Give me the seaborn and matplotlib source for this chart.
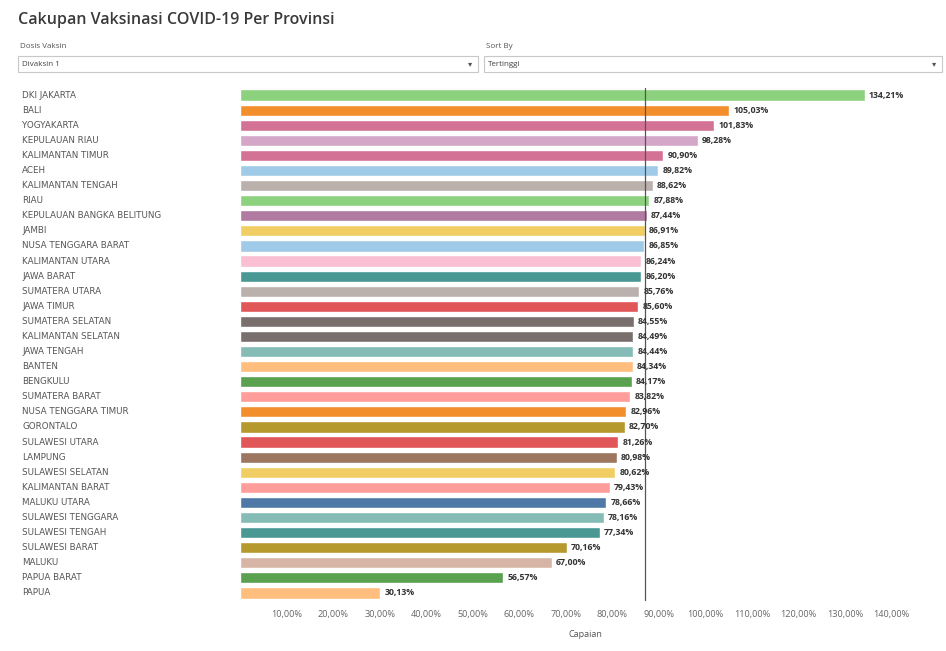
import matplotlib
matplotlib.use('Agg')
import matplotlib.pyplot as plt
import matplotlib.transforms as mtransforms
from matplotlib.patches import Rectangle
import seaborn as sns
import pandas as pd

provinsi = ['DKI JAKARTA', 'BALI', 'YOGYAKARTA', 'KEPULAUAN RIAU', 'KALIMANTAN TIMUR',
            'ACEH', 'KALIMANTAN TENGAH', 'RIAU', 'KEPULAUAN BANGKA BELITUNG', 'JAMBI',
            'NUSA TENGGARA BARAT', 'KALIMANTAN UTARA', 'JAWA BARAT', 'SUMATERA UTARA',
            'JAWA TIMUR', 'SUMATERA SELATAN', 'KALIMANTAN SELATAN', 'JAWA TENGAH',
            'BANTEN', 'BENGKULU', 'SUMATERA BARAT', 'NUSA TENGGARA TIMUR', 'GORONTALO',
            'SULAWESI UTARA', 'LAMPUNG', 'SULAWESI SELATAN', 'KALIMANTAN BARAT',
            'MALUKU UTARA', 'SULAWESI TENGGARA', 'SULAWESI TENGAH', 'SULAWESI BARAT',
            'MALUKU', 'PAPUA BARAT', 'PAPUA']
capaian = [134.21, 105.03, 101.83, 98.28, 90.90, 89.82, 88.62, 87.88, 87.44, 86.91,
           86.85, 86.24, 86.20, 85.76, 85.60, 84.55, 84.49, 84.44, 84.34, 84.17,
           83.82, 82.96, 82.70, 81.26, 80.98, 80.62, 79.43, 78.66, 78.16, 77.34,
           70.16, 67.00, 56.57, 30.13]
warna = ['#8cd17d', '#f28e2b', '#d37295', '#d4a6c8', '#d37295', '#a0cbe8', '#bab0ac',
         '#8cd17d', '#b07aa1', '#f1ce63', '#a0cbe8', '#fabfd2', '#499894', '#bab0ac',
         '#e15759', '#79706e', '#79706e', '#86bcb6', '#ffbe7d', '#59a14f', '#ff9d9a',
         '#f28e2b', '#b6992d', '#e15759', '#9d7660', '#f1ce63', '#ff9d9a', '#4e79a7',
         '#86bcb6', '#499894', '#b6992d', '#d7b5a6', '#59a14f', '#ffbe7d']
x_ticks = [10, 20, 30, 40, 50, 60, 70, 80, 90, 100, 110, 120, 130, 140]
rata_rata = 87.0

df = pd.DataFrame({'Provinsi': provinsi, 'Capaian': capaian})

sns.set_style('white')
plt.rcParams['font.family'] = ['Open Sans', 'DejaVu Sans']

fig = plt.figure(figsize=(9.46, 6.51), dpi=100)
ax = fig.add_axes([240 / 946, 1 - 600.5 / 651, 675 / 946, 513 / 651])

sns.barplot(data=df, x='Capaian', y='Provinsi', hue='Provinsi', palette=warna,
            order=provinsi, hue_order=provinsi, legend=False, width=0.74,
            orient='h', ax=ax, saturation=1)

ax.axvline(rata_rata, color='#555555', lw=0.9)

for i, v in enumerate(capaian):
    ax.text(v + 0.9, i, f'{v:.2f}'.replace('.', ',') + '%', va='center', ha='left',
            fontsize=6.3, fontweight='bold', color='#333333')

ax.set_xlim(0, 145)
ax.set_ylim(len(provinsi) - 0.5, -0.5)
ax.set_xticks(x_ticks)
ax.set_xticklabels([f'{t:.2f}'.replace('.', ',') + '%' for t in x_ticks],
                   fontsize=6.6, color='#666666')
ax.tick_params(axis='x', length=0, pad=7)
ax.set_yticks([])
ax.set_ylabel('')
ax.set_xlabel('Capaian', fontsize=6.5, color='#555555')
ax.xaxis.set_label_coords(0.512, -0.058)
for s in ax.spines.values():
    s.set_visible(False)

# province names, left aligned at the dashboard edge
trans = mtransforms.blended_transform_factory(fig.transFigure, ax.transData)
for i, p in enumerate(provinsi):
    ax.text(22 / 946, i, p, transform=trans, ha='left', va='center',
            fontsize=6.3, color='#555555', family='DejaVu Sans')

# dashboard header
fig.text(18 / 946, 1 - 20 / 651, 'Cakupan Vaksinasi COVID-19 Per Provinsi',
         fontsize=11.5, color='#3a3a3a', va='center', ha='left', fontweight='semibold')
fig.text(20 / 946, 1 - 47 / 651, 'Dosis Vaksin', fontsize=5.8, color='#555555', va='center')
fig.text(486 / 946, 1 - 47 / 651, 'Sort By', fontsize=5.8, color='#555555', va='center')
for x0, x1, txt in [(18, 478, 'Divaksin 1'), (484, 942, 'Tertinggi')]:
    fig.patches.append(Rectangle((x0 / 946, 1 - 72 / 651), (x1 - x0) / 946, 16 / 651,
                                 transform=fig.transFigure, fill=False,
                                 edgecolor='#c8c8c8', lw=0.8))
    fig.text((x0 + 4) / 946, 1 - 64 / 651, txt, fontsize=5.8, color='#444444', va='center')
    fig.text((x1 - 8) / 946, 1 - 64 / 651, '▾', fontsize=6, color='#555555',
             va='center', ha='center', family='DejaVu Sans')

fig.savefig('out.png', dpi=100, facecolor='white')
